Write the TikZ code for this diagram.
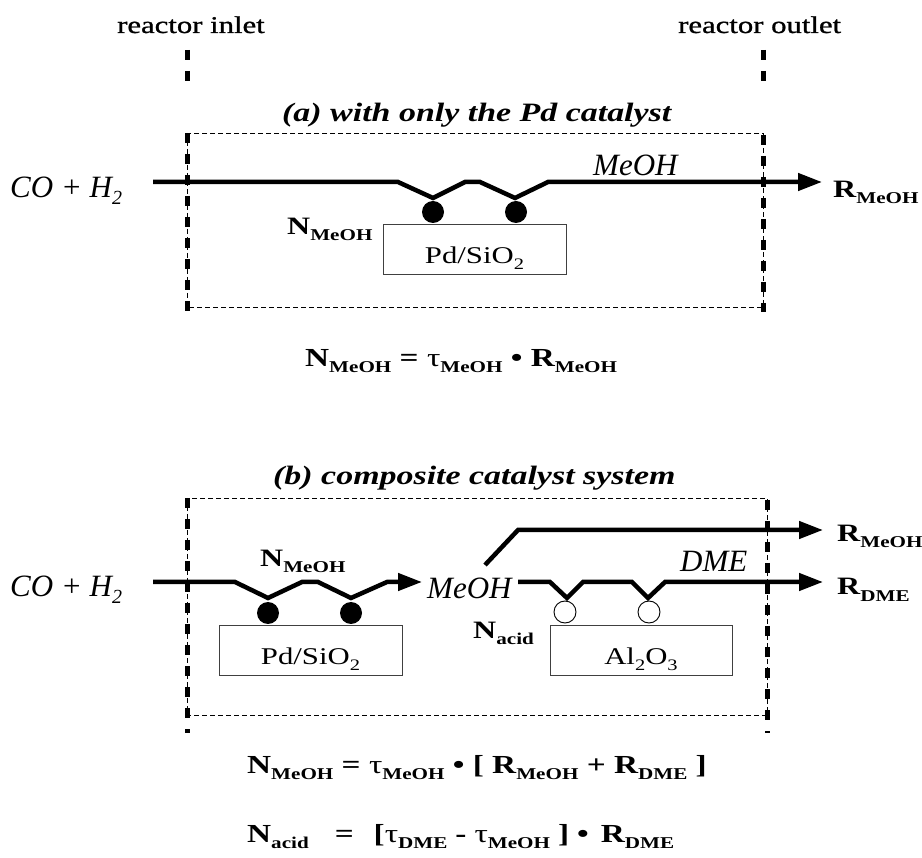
\documentclass[tikz,border=0pt]{standalone}
\usepackage{fontspec}
\setmainfont{Liberation Serif}[FakeStretch=1.28]
\newfontfamily\flowfont{Liberation Serif}
\newfontfamily\markfont{Liberation Serif}[FakeStretch=1.28, FakeBold=1]
\usetikzlibrary{arrows.meta,calc}

\newcommand{\subb}[1]{\raisebox{-6pt}{\fontsize{16.5}{16.5}\selectfont\bfseries #1}}
\newcommand{\subn}[1]{\raisebox{-6pt}{\fontsize{16}{16}\selectfont #1}}
\newcommand{\tauch}{{\mdseries τ}}

\begin{document}
\begin{tikzpicture}[
  x=1pt, y=-1pt,
  >={Triangle[length=24pt, width=17pt]},
  inner sep=0pt,
  reactor/.style={font=\markfont\fontsize{24}{28}\selectfont},
  heading/.style={font=\fontsize{26.5}{32}\selectfont\bfseries\itshape},
  flow/.style={font=\flowfont\fontsize{31}{36}\selectfont\itshape},
  rate/.style={font=\fontsize{25}{30}\selectfont\bfseries},
  eqn/.style={font=\fontsize{26}{30}\selectfont\bfseries},
  cat/.style={font=\fontsize{24}{28}\selectfont},
  support/.style={draw=black!75, line width=0.9pt, minimum width=183pt,
                  minimum height=50pt},
  site/.style={circle, fill=black, minimum size=22pt},
  acidsite/.style={circle, draw, line width=0.9pt, fill=white, minimum size=22pt},
  wall/.style={line width=5pt, dash pattern=on 10pt off 11pt},
  frame/.style={line width=0.9pt, dash pattern=on 5pt off 3pt},
  stream/.style={line width=4.5pt, line join=miter}
]
\useasboundingbox (0,0) rectangle (922,858);

% Reactor inlet and outlet markers
\node[reactor, anchor=base west] (inlet) at (117,33) {reactor inlet};
\node[reactor, anchor=base west] (outlet) at (678,33) {reactor outlet};
\draw[wall] (187,50) -- (187,81);
\draw[wall] (763,50) -- (763,81);

% (a) Pd catalyst only
\node[heading, anchor=base west] (headA) at (282,122) {(a) with only the Pd catalyst};
\draw[frame] (187,133) rectangle (763,307);
\draw[wall] (187,133) -- (187,312);
\draw[wall] (763,135) -- (763,312);

\node[support] (pdA) at (474.5,249) {};
\node[cat, anchor=base] (pdtextA) at ([yshift=11pt]pdA.south) {Pd/SiO\subn{2}};
\node[site] (siteA1) at (433,212) {};
\node[site] (siteA2) at (516,212) {};

\coordinate (feedA) at (153,182);
\coordinate (outA) at (822,182);
\draw[stream, ->] (feedA) -- (398,182) -- ++(35,16) -- ++(32,-16) -- ++(15,0)
  -- ++(35,16) -- ++(33,-16) -- (outA);

\node[flow, anchor=base west] (gasA) at (10,198) {CO + H\raisebox{-7pt}{\fontsize{20}{20}\selectfont 2}};
\node[flow, anchor=base west] (meohA) at (593,176) {MeOH};
\node[rate, anchor=base west] (nA) at (287,235) {N\subb{MeOH}};
\node[rate, anchor=base west] (rA) at (833,198) {R\subb{MeOH}};

\node[eqn, anchor=base west] (eqA) at (305,367)
  {N\subb{MeOH} = \tauch\subb{MeOH} \textbullet{} R\subb{MeOH}};

% (b) composite catalyst system
\node[heading, anchor=base west] (headB) at (273,485) {(b) composite catalyst system};
\draw[frame] (187,498) rectangle (767,715);
\draw[wall] (187,498) -- (187,733);
\draw[wall] (767,500) -- (767,733);

\node[support] (pdB) at (310.5,650) {};
\node[cat, anchor=base] (pdtextB) at ([yshift=11pt]pdB.south) {Pd/SiO\subn{2}};
\node[site] (siteB1) at (268,613) {};
\node[site] (siteB2) at (351,613) {};

\node[support, minimum width=182pt] (alB) at (641,650) {};
\node[cat, anchor=base] (altextB) at ([yshift=11pt]alB.south) {Al\subn{2}O\subn{3}};
\node[acidsite] (acidB1) at (565,612) {};
\node[acidsite] (acidB2) at (649,612) {};

\coordinate (feedB) at (153,582);
\coordinate (meohB) at (422,582);
\draw[stream, ->] (feedB) -- (235,582) -- ++(33,16) -- ++(34,-16) -- ++(16,0)
  -- ++(33,16) -- ++(36,-16) -- (meohB);

\coordinate (splitB) at (485,565);
\coordinate (outB1) at (823,530);
\draw[stream, ->] (splitB) -- (518,530) -- (outB1);

\coordinate (acidin) at (518,582);
\coordinate (outB2) at (823,582);
\draw[stream, ->] (acidin) -- (550,582) -- ++(17,16) -- ++(16,-16) -- (632,582)
  -- ++(16,16) -- ++(17,-16) -- (outB2);

\node[flow, anchor=base west] (gasB) at (10,597) {CO + H\raisebox{-7pt}{\fontsize{20}{20}\selectfont 2}};
\node[flow, anchor=base west] (meohmid) at (427,598) {MeOH};
\node[flow, anchor=base west] (dmeB) at (680,572) {DME};
\node[rate, anchor=base west] (nB) at (260,567) {N\subb{MeOH}};
\node[rate, anchor=base west] (nacid) at (473,638) {N\subb{acid}};
\node[rate, anchor=base west] (rB1) at (837,542) {R\subb{MeOH}};
\node[rate, anchor=base west] (rB2) at (837,595) {R\subb{DME}};

\node[eqn, anchor=base west] (eqB1) at (247,773)
  {N\subb{MeOH} = \tauch\subb{MeOH} \textbullet{} [ R\subb{MeOH} + R\subb{DME} ]};
\node[eqn, anchor=base west] (eqB2) at (247,842)
  {N\subb{acid}\hspace{26pt}=\hspace{20pt}[\tauch\subb{DME}\hspace{8pt}-\hspace{8pt}\tauch\subb{MeOH}\hspace{8pt}]\hspace{8pt}\textbullet\hspace{12pt}R\subb{DME}};

\end{tikzpicture}
\end{document}
